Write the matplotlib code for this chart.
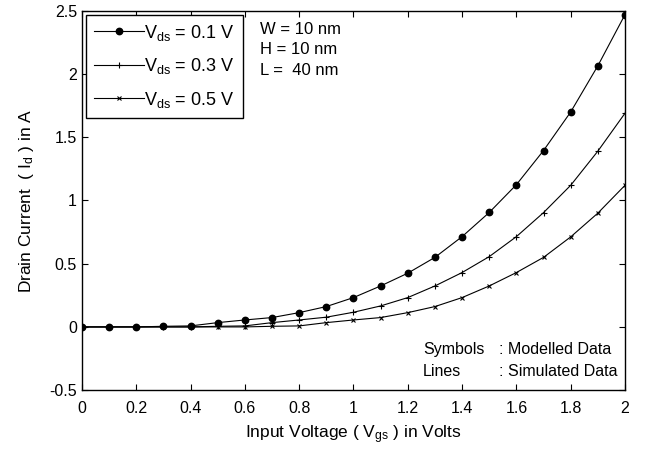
import matplotlib
matplotlib.use("Agg")
import matplotlib.pyplot as plt
from matplotlib.lines import Line2D

plt.rcParams['font.family'] = ['Liberation Sans', 'DejaVu Sans']
plt.rcParams['mathtext.fontset'] = 'custom'
plt.rcParams['mathtext.rm'] = 'Liberation Sans'
plt.rcParams['mathtext.it'] = 'Liberation Sans'

vgs = [0.0, 0.1, 0.2, 0.3, 0.4, 0.5, 0.6, 0.7, 0.8, 0.9, 1.0,
       1.1, 1.2, 1.3, 1.4, 1.5, 1.6, 1.7, 1.8, 1.9, 2.0]
id_01 = [0.0, 0.0, 0.0, 0.005, 0.008, 0.034, 0.055, 0.074, 0.113, 0.161, 0.232,
         0.324, 0.425, 0.55, 0.714, 0.905, 1.125, 1.395, 1.70, 2.065, 2.47]
id_03 = [0.0, 0.0, 0.0, 0.0, 0.0, 0.005, 0.008, 0.034, 0.055, 0.077, 0.116,
         0.166, 0.232, 0.324, 0.43, 0.556, 0.714, 0.904, 1.12, 1.39, 1.69]
id_05 = [0.0, 0.0, 0.0, 0.0, 0.0, 0.0, 0.0, 0.005, 0.008, 0.034, 0.055,
         0.074, 0.113, 0.161, 0.232, 0.324, 0.43, 0.55, 0.712, 0.9, 1.12]
labels = [r'V$_{\mathregular{ds}}$ = 0.1 V', r'V$_{\mathregular{ds}}$ = 0.3 V', r'V$_{\mathregular{ds}}$ = 0.5 V']
xticks = [0, 0.2, 0.4, 0.6, 0.8, 1, 1.2, 1.4, 1.6, 1.8, 2]
xticklabels = ['0', '0.2', '0.4', '0.6', '0.8', '1', '1.2', '1.4', '1.6', '1.8', '2']
yticks = [-0.5, 0, 0.5, 1, 1.5, 2, 2.5]
yticklabels = ['-0.5', '0', '0.5', '1', '1.5', '2', '2.5']
dims = ['W = 10 nm', 'H = 10 nm', 'L =  40 nm']

fig = plt.figure(figsize=(6.45, 4.5), dpi=100)
ax = fig.add_axes([0.127, 0.133, 0.842, 0.843])

styles = [dict(marker='o', ms=4.6), dict(marker='+', ms=4, mew=0.8), dict(marker='x', ms=3, mew=0.8)]
handles = []
for y, st, lab in zip([id_01, id_03, id_05], styles, labels):
    ax.plot(vgs, y, color='black', lw=0.8, **st)
    handles.append(Line2D([0], [0], color='black', lw=0.8, label=lab, **st))

ax.set_xlim(0, 2)
ax.set_ylim(-0.5, 2.5)
ax.set_xticks(xticks)
ax.set_xticklabels(xticklabels)
ax.set_yticks(yticks)
ax.set_yticklabels(yticklabels)
ax.tick_params(direction='in', top=True, right=True, labelsize=11.5, length=4, width=0.8)
ax.tick_params(axis='x', pad=7.5)
ax.tick_params(axis='y', pad=3.5)
for s in ax.spines.values():
    s.set_linewidth(1.0)

ax.set_xlabel(r'Input Voltage ( V$_{\mathregular{gs}}$ ) in Volts', fontsize=12.5, labelpad=6)
ax.set_ylabel(r'Drain Current  ( I$_{\mathregular{d}}$ ) in A', fontsize=12.5, labelpad=10)

leg = ax.legend(handles=handles, loc='upper left', bbox_to_anchor=(0.007, 0.99),
                fontsize=13, handlelength=2.8, handletextpad=0.0, labelspacing=0.75,
                borderpad=0.45, fancybox=False, framealpha=1, edgecolor='black',
                borderaxespad=0)
leg.get_frame().set_linewidth(1.0)

for txt, yy in zip(dims, [0.950, 0.897, 0.842]):
    ax.text(0.327, yy, txt, transform=ax.transAxes, fontsize=12, va='center', ha='left')
ax.text(0.628, 0.106, 'Symbols', transform=ax.transAxes, fontsize=11.5, va='center', ha='left')
ax.text(0.628, 0.05, 'Lines', transform=ax.transAxes, fontsize=11.5, va='center', ha='left')
ax.text(0.768, 0.106, ': Modelled Data', transform=ax.transAxes, fontsize=11.5, va='center', ha='left')
ax.text(0.768, 0.05, ': Simulated Data', transform=ax.transAxes, fontsize=11.5, va='center', ha='left')

fig.savefig('out.png', dpi=100)
